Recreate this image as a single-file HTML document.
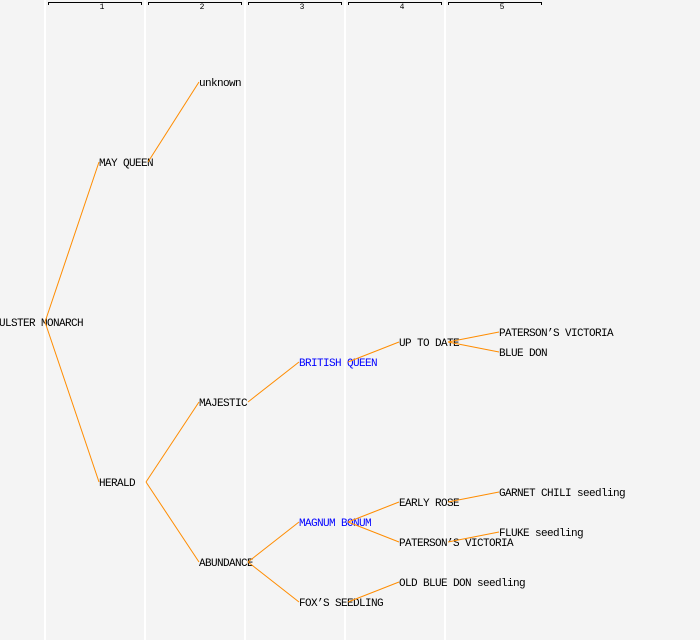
<!DOCTYPE html>
<html><head><meta charset="utf-8"><style>
html,body{margin:0;padding:0;background:#f4f4f4;}
svg{display:block;}
text{font-family:"Liberation Mono","DejaVu Sans Mono",monospace;font-size:11px;letter-spacing:-0.6px;}
</style></head><body>
<svg width="700" height="640" viewBox="0 0 700 640">
<rect width="700" height="640" fill="#f4f4f4"/>
<g stroke="#ffffff" stroke-width="2">
<line x1="45" y1="0" x2="45" y2="640"/><line x1="145" y1="0" x2="145" y2="640"/>
<line x1="245" y1="0" x2="245" y2="640"/><line x1="345" y1="0" x2="345" y2="640"/>
<line x1="445" y1="0" x2="445" y2="640"/>
</g>
<g stroke="#000" stroke-width="1" fill="none">
<path d="M48.5,5V2.5H141.5V5"/><path d="M148.5,5V2.5H241.5V5"/><path d="M248.5,5V2.5H341.5V5"/>
<path d="M348.5,5V2.5H441.5V5"/><path d="M448.5,5V2.5H541.5V5"/>
</g>
<g font-size="8" text-anchor="middle" fill="#000">
<text x="102" y="9" style="font-size:8px;letter-spacing:0">1</text>
<text x="202" y="9" style="font-size:8px;letter-spacing:0">2</text>
<text x="302" y="9" style="font-size:8px;letter-spacing:0">3</text>
<text x="402" y="9" style="font-size:8px;letter-spacing:0">4</text>
<text x="502" y="9" style="font-size:8px;letter-spacing:0">5</text>
</g>
<g fill="#000">
<text x="-1" y="326">ULSTER MONARCH</text>
<text x="99" y="166">MAY QUEEN</text>
<text x="99" y="486">HERALD</text>
<text x="199" y="86">unknown</text>
<text x="199" y="406">MAJESTIC</text>
<text x="199" y="566">ABUNDANCE</text>
<text x="299" y="366" fill="#0000ff">BRITISH QUEEN</text>
<text x="299" y="526" fill="#0000ff">MAGNUM BONUM</text>
<text x="299" y="606">FOX’S SEEDLING</text>
<text x="399" y="346">UP TO DATE</text>
<text x="399" y="506">EARLY ROSE</text>
<text x="399" y="546">PATERSON’S VICTORIA</text>
<text x="399" y="586">OLD BLUE DON seedling</text>
<text x="499" y="336">PATERSON’S VICTORIA</text>
<text x="499" y="356">BLUE DON</text>
<text x="499" y="496">GARNET CHILI seedling</text>
<text x="499" y="536">FLUKE seedling</text>
</g>
<g stroke="#ff8c00" stroke-width="1" fill="none">
<line x1="45" y1="322" x2="99" y2="162"/><line x1="45" y1="322" x2="99" y2="482"/>
<line x1="148" y1="162" x2="199" y2="82"/>
<line x1="146" y1="482" x2="199" y2="402"/><line x1="146" y1="482" x2="199" y2="562"/>
<line x1="248" y1="402" x2="299" y2="362"/>
<line x1="248" y1="562" x2="299" y2="522"/><line x1="248" y1="562" x2="299" y2="602"/>
<line x1="348" y1="362" x2="399" y2="342"/>
<line x1="348" y1="522" x2="399" y2="502"/><line x1="348" y1="522" x2="399" y2="542"/>
<line x1="348" y1="602" x2="399" y2="582"/>
<line x1="448" y1="342" x2="499" y2="332"/><line x1="448" y1="342" x2="499" y2="352"/>
<line x1="448" y1="502" x2="499" y2="492"/>
<line x1="448" y1="542" x2="499" y2="532"/>
</g>
</svg>
</body></html>
